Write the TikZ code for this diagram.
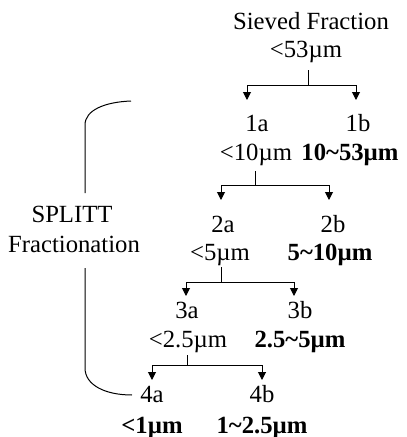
\documentclass[tikz,border=0pt]{standalone}
\usepackage{fontspec}
\setmainfont{Liberation Serif}
\usetikzlibrary{arrows.meta}
\begin{document}
\begin{tikzpicture}[x=1pt,y=-1pt,
  lbl/.style={inner sep=0pt, anchor=base, font=\fontsize{24.7}{29}\selectfont},
  rng/.style={inner sep=0pt, anchor=base, font=\fontsize{24.7}{29}\selectfont\bfseries},
  conn/.style={line width=1pt},
  tip/.style={conn,-{Triangle[width=8pt,length=8pt]}},
  brace/.style={line width=1pt}]
\useasboundingbox (0,0) rectangle (407,437);
% labels
\node[lbl] (sf) at (311,29) {Sieved Fraction};
\node[lbl] (s0) at (306,57) {<53µm};
\node[lbl] (n1a) at (257,131) {1a};
\node[lbl] (n1b) at (358,131) {1b};
\node[lbl] (r1a) at (256,160) {<10µm};
\node[rng] (r1b) at (350,160) {10\textasciitilde53µm};
\node[lbl] (n2a) at (223,232) {2a};
\node[lbl] (n2b) at (333,232) {2b};
\node[lbl] (r2a) at (220,260) {<5µm};
\node[rng] (r2b) at (330,260) {5\textasciitilde10µm};
\node[lbl] (n3a) at (187,318) {3a};
\node[lbl] (n3b) at (300,318) {3b};
\node[lbl] (r3a) at (188,347) {<2.5µm};
\node[rng] (r3b) at (300,347) {2.5\textasciitilde5µm};
\node[lbl] (n4a) at (152,402) {4a};
\node[lbl] (n4b) at (262,402) {4b};
\node[rng] (r4a) at (152,433) {<1µm};
\node[rng] (r4b) at (262,433) {1\textasciitilde2.5µm};
\node[lbl] (sp) at (72,222) {SPLITT};
\node[lbl] (fr) at (74,252) {Fractionation};
% junctions and tips
\coordinate (s0t) at (308,70);  \coordinate (j0) at (308,85);
\coordinate (t1a) at (247,100); \coordinate (t1b) at (356,100);
\coordinate (s1t) at (255,171); \coordinate (j1) at (255,185);
\coordinate (t2a) at (221,200); \coordinate (t2b) at (329,200);
\coordinate (s2t) at (221,267); \coordinate (j2) at (221,282);
\coordinate (t3a) at (186,296); \coordinate (t3b) at (294,296);
\coordinate (s3t) at (187,355); \coordinate (j3) at (187,365);
\coordinate (t4a) at (152,380); \coordinate (t4b) at (262,380);
\draw[conn] (s0t) -- (j0);
\draw[tip] (j0) -| (t1a);
\draw[tip] (j0) -| (t1b);
\draw[conn] (s1t) -- (j1);
\draw[tip] (j1) -| (t2a);
\draw[tip] (j1) -| (t2b);
\draw[conn] (s2t) -- (j2);
\draw[tip] (j2) -| (t3a);
\draw[tip] (j2) -| (t3b);
\draw[conn] (s3t) -- (j3);
\draw[tip] (j3) -| (t4a);
\draw[tip] (j3) -| (t4b);
% bracket
\coordinate (b1) at (131,101); \coordinate (b2) at (85,125); \coordinate (b3) at (85,193);
\coordinate (b4) at (85,268); \coordinate (b5) at (85,368); \coordinate (b6) at (132,395);
\draw[brace] (b1) .. controls (105,102) and (85,110) .. (b2) -- (b3);
\draw[brace] (b4) -- (b5) .. controls (85,385) and (105,395) .. (b6);
\end{tikzpicture}
\end{document}
